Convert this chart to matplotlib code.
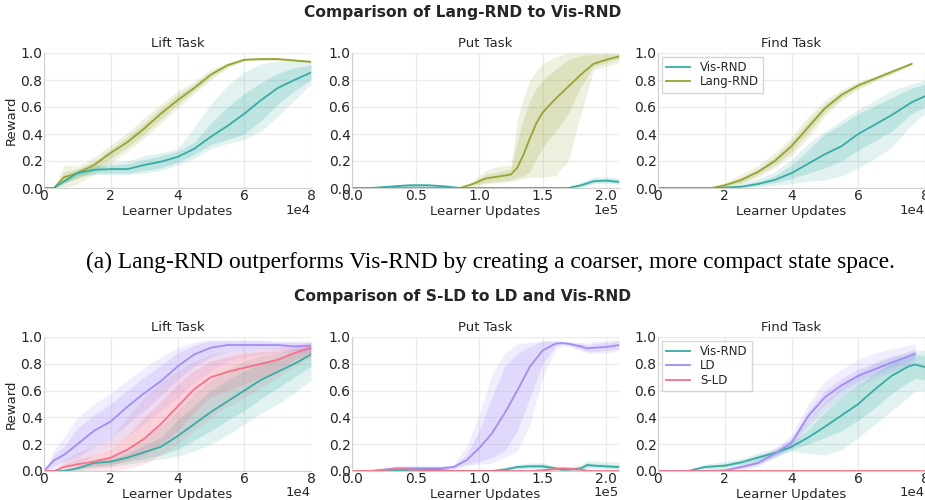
import numpy as np
import matplotlib
matplotlib.use("Agg")
import matplotlib.pyplot as plt

# colours (husl palette)
VIS_C = "#36ada4"
LANG_C = "#97a431"
LD_C = "#a48cf4"
SLD_C = "#f77189"

nan = np.nan

# ---------------- top row: Lang-RND vs Vis-RND ----------------
lift1_x = [0, 0.3, 0.6, 1.0, 1.5, 2.0, 2.5, 3.0, 3.5, 4.0, 4.5, 5.0, 5.5, 6.0, 6.5, 7.0, 7.5, 8.0]
lift1_lang = [0, 0, 0.08, 0.11, 0.17, 0.26, 0.34, 0.44, 0.55, 0.65, 0.74, 0.84, 0.91, 0.95, 0.955, 0.955, 0.945, 0.935]
lift1_lang_in_lo = [0, 0, 0.04, 0.07, 0.13, 0.22, 0.30, 0.40, 0.51, 0.62, 0.72, 0.82, 0.90, 0.945, 0.95, 0.95, 0.94, 0.93]
lift1_lang_in_hi = [0, 0, 0.12, 0.14, 0.20, 0.29, 0.38, 0.48, 0.59, 0.69, 0.77, 0.86, 0.92, 0.955, 0.96, 0.96, 0.95, 0.94]
lift1_lang_out_lo = [0, 0, 0.0, 0.03, 0.10, 0.19, 0.27, 0.37, 0.48, 0.59, 0.70, 0.80, 0.89, 0.94, 0.945, 0.945, 0.935, 0.925]
lift1_lang_out_hi = [0, 0, 0.17, 0.16, 0.23, 0.32, 0.41, 0.52, 0.62, 0.72, 0.79, 0.88, 0.93, 0.96, 0.965, 0.965, 0.955, 0.945]
lift1_vis = [0, 0, 0.05, 0.11, 0.135, 0.14, 0.14, 0.17, 0.195, 0.23, 0.29, 0.38, 0.46, 0.55, 0.65, 0.74, 0.80, 0.855]
lift1_vis_in_lo = [0, 0, 0.04, 0.09, 0.11, 0.11, 0.11, 0.13, 0.15, 0.19, 0.25, 0.32, 0.36, 0.40, 0.50, 0.62, 0.72, 0.80]
lift1_vis_in_hi = [0, 0, 0.06, 0.13, 0.16, 0.17, 0.18, 0.21, 0.24, 0.27, 0.34, 0.48, 0.60, 0.70, 0.78, 0.85, 0.89, 0.91]
lift1_vis_out_lo = [0, 0, 0.03, 0.08, 0.10, 0.10, 0.10, 0.11, 0.13, 0.17, 0.22, 0.29, 0.33, 0.36, 0.42, 0.53, 0.65, 0.77]
lift1_vis_out_hi = [0, 0, 0.07, 0.14, 0.17, 0.19, 0.20, 0.24, 0.26, 0.29, 0.45, 0.62, 0.76, 0.86, 0.92, 0.94, 0.94, 0.94]

put1_x = [0, 0.15, 0.3, 0.45, 0.6, 0.75, 0.85, 0.95, 1.05, 1.15, 1.25, 1.3, 1.35, 1.4, 1.45, 1.5, 1.6, 1.7, 1.8, 1.9, 2.0, 2.1]
put1_lang = [0, 0, 0, 0, 0, 0, 0, 0.03, 0.07, 0.085, 0.10, 0.15, 0.25, 0.37, 0.48, 0.56, 0.66, 0.75, 0.84, 0.92, 0.95, 0.975]
put1_lang_in_lo = [0, 0, 0, 0, 0, 0, 0, 0.02, 0.04, 0.05, 0.06, 0.08, 0.09, 0.12, 0.22, 0.30, 0.42, 0.55, 0.75, 0.90, 0.93, 0.955]
put1_lang_in_hi = [0, 0, 0, 0, 0, 0, 0, 0.04, 0.10, 0.12, 0.14, 0.35, 0.52, 0.65, 0.74, 0.80, 0.88, 0.95, 0.98, 0.99, 0.99, 0.99]
put1_lang_out_lo = [0, 0, 0, 0, 0, 0, 0, 0.01, 0.03, 0.04, 0.05, 0.06, 0.07, 0.08, 0.08, 0.08, 0.09, 0.20, 0.55, 0.87, 0.90, 0.93]
put1_lang_out_hi = [0, 0, 0, 0, 0, 0, 0, 0.05, 0.13, 0.16, 0.17, 0.50, 0.67, 0.80, 0.87, 0.92, 0.97, 1.0, 1.0, 1.0, 1.0, 1.0]
put1_vis = [0, 0, 0.01, 0.02, 0.02, 0.01, 0, 0, 0, 0, 0, 0, 0, 0, 0, 0, 0, 0, 0.02, 0.05, 0.055, 0.045]
put1_vis_in_lo = [0, 0, 0.005, 0.012, 0.012, 0.005, 0, 0, 0, 0, 0, 0, 0, 0, 0, 0, 0, 0, 0.01, 0.04, 0.045, 0.035]
put1_vis_in_hi = [0, 0, 0.015, 0.028, 0.028, 0.016, 0.003, 0, 0, 0, 0, 0, 0, 0, 0, 0, 0, 0, 0.03, 0.065, 0.07, 0.06]
put1_vis_out_lo = [0, 0, 0, 0.005, 0.005, 0, 0, 0, 0, 0, 0, 0, 0, 0, 0, 0, 0, 0, 0.005, 0.03, 0.035, 0.025]
put1_vis_out_hi = [0, 0.005, 0.025, 0.035, 0.035, 0.025, 0.006, 0, 0, 0, 0, 0, 0, 0, 0, 0, 0, 0.005, 0.045, 0.08, 0.085, 0.075]

find1_x = [0, 1.0, 1.6, 2.0, 2.5, 3.0, 3.5, 4.0, 4.5, 5.0, 5.5, 6.0, 6.5, 7.0, 7.6, 8.0]
find1_lang = [0, 0, 0, 0.02, 0.06, 0.12, 0.20, 0.31, 0.45, 0.59, 0.69, 0.76, 0.81, 0.86, 0.92, nan]
find1_lang_in_lo = [0, 0, 0, 0.01, 0.04, 0.10, 0.17, 0.27, 0.41, 0.56, 0.67, 0.745, 0.80, 0.85, 0.915, nan]
find1_lang_in_hi = [0, 0, 0, 0.03, 0.08, 0.14, 0.23, 0.35, 0.49, 0.62, 0.71, 0.775, 0.82, 0.87, 0.925, nan]
find1_lang_out_lo = [0, 0, 0, 0.005, 0.03, 0.08, 0.15, 0.24, 0.37, 0.53, 0.65, 0.73, 0.79, 0.84, 0.91, nan]
find1_lang_out_hi = [0, 0, 0.005, 0.04, 0.10, 0.17, 0.26, 0.38, 0.53, 0.65, 0.73, 0.79, 0.83, 0.88, 0.93, nan]
find1_vis = [0, 0, 0, 0.003, 0.01, 0.03, 0.06, 0.11, 0.18, 0.25, 0.31, 0.40, 0.47, 0.54, 0.635, 0.68]
find1_vis_in_lo = [0, 0, 0, 0, 0.005, 0.02, 0.04, 0.07, 0.11, 0.15, 0.20, 0.28, 0.35, 0.42, 0.55, 0.60]
find1_vis_in_hi = [0, 0, 0, 0.006, 0.02, 0.05, 0.09, 0.17, 0.28, 0.40, 0.47, 0.55, 0.61, 0.67, 0.74, 0.77]
find1_vis_out_lo = [0, 0, 0, 0, 0, 0.01, 0.02, 0.03, 0.05, 0.06, 0.09, 0.15, 0.22, 0.30, 0.47, 0.55]
find1_vis_out_hi = [0, 0, 0, 0.01, 0.03, 0.07, 0.12, 0.21, 0.33, 0.42, 0.50, 0.58, 0.65, 0.72, 0.77, 0.80]

# ---------------- bottom row: S-LD vs LD vs Vis-RND ----------------
lift2_x = [0, 0.3, 0.6, 1.0, 1.5, 2.0, 2.5, 3.0, 3.5, 4.0, 4.5, 5.0, 5.5, 6.0, 6.5, 7.0, 7.5, 8.0]
lift2_ld = [0, 0.08, 0.12, 0.20, 0.30, 0.37, 0.48, 0.58, 0.67, 0.78, 0.87, 0.92, 0.94, 0.94, 0.94, 0.94, 0.93, 0.935]
lift2_ld_in_lo = [0, 0.04, 0.07, 0.10, 0.18, 0.25, 0.35, 0.45, 0.56, 0.68, 0.78, 0.85, 0.89, 0.90, 0.91, 0.91, 0.90, 0.90]
lift2_ld_in_hi = [0, 0.12, 0.18, 0.32, 0.42, 0.50, 0.60, 0.70, 0.79, 0.88, 0.94, 0.97, 0.97, 0.97, 0.97, 0.96, 0.96, 0.96]
lift2_ld_out_lo = [0, 0.02, 0.04, 0.05, 0.12, 0.18, 0.26, 0.35, 0.45, 0.55, 0.66, 0.75, 0.82, 0.85, 0.87, 0.88, 0.88, 0.88]
lift2_ld_out_hi = [0, 0.16, 0.25, 0.40, 0.50, 0.58, 0.68, 0.77, 0.85, 0.92, 0.96, 0.98, 0.98, 0.98, 0.98, 0.97, 0.97, 0.97]
lift2_sld = [0, 0, 0.03, 0.05, 0.07, 0.10, 0.16, 0.24, 0.35, 0.48, 0.61, 0.70, 0.74, 0.77, 0.80, 0.83, 0.88, 0.92]
lift2_sld_in_lo = [0, 0, 0.01, 0.02, 0.03, 0.04, 0.08, 0.12, 0.20, 0.30, 0.44, 0.55, 0.60, 0.65, 0.70, 0.75, 0.83, 0.88]
lift2_sld_in_hi = [0, 0, 0.05, 0.09, 0.12, 0.17, 0.27, 0.40, 0.52, 0.65, 0.75, 0.82, 0.85, 0.88, 0.89, 0.90, 0.92, 0.95]
lift2_sld_out_lo = [0, 0, 0, 0, 0, 0, 0.02, 0.05, 0.12, 0.20, 0.30, 0.40, 0.48, 0.55, 0.62, 0.70, 0.78, 0.85]
lift2_sld_out_hi = [0, 0, 0.08, 0.14, 0.19, 0.25, 0.40, 0.55, 0.66, 0.75, 0.82, 0.87, 0.89, 0.90, 0.91, 0.92, 0.94, 0.96]
lift2_vis = [0, 0, 0, 0.02, 0.06, 0.07, 0.10, 0.14, 0.18, 0.26, 0.35, 0.44, 0.52, 0.60, 0.68, 0.74, 0.80, 0.87]
lift2_vis_in_lo = [0, 0, 0, 0.01, 0.04, 0.05, 0.07, 0.09, 0.12, 0.16, 0.23, 0.30, 0.38, 0.45, 0.54, 0.62, 0.70, 0.78]
lift2_vis_in_hi = [0, 0, 0, 0.03, 0.07, 0.09, 0.13, 0.19, 0.25, 0.38, 0.49, 0.60, 0.68, 0.75, 0.80, 0.84, 0.88, 0.92]
lift2_vis_out_lo = [0, 0, 0, 0, 0.02, 0.03, 0.05, 0.07, 0.09, 0.11, 0.15, 0.20, 0.27, 0.35, 0.43, 0.50, 0.58, 0.68]
lift2_vis_out_hi = [0, 0, 0, 0.04, 0.09, 0.11, 0.16, 0.25, 0.33, 0.45, 0.58, 0.68, 0.76, 0.82, 0.86, 0.88, 0.91, 0.93]

put2_x = [0, 0.15, 0.35, 0.5, 0.6, 0.7, 0.8, 0.9, 1.0, 1.1, 1.2, 1.3, 1.4, 1.5, 1.6, 1.65, 1.7, 1.8, 1.85, 1.9, 2.0, 2.1]
put2_ld = [0, 0, 0.02, 0.02, 0.02, 0.02, 0.03, 0.08, 0.17, 0.28, 0.43, 0.60, 0.78, 0.90, 0.95, 0.955, 0.95, 0.93, 0.915, 0.92, 0.925, 0.94]
put2_ld_in_lo = [0, 0, 0.01, 0.01, 0.01, 0.01, 0.02, 0.05, 0.07, 0.10, 0.15, 0.30, 0.55, 0.80, 0.93, 0.945, 0.94, 0.91, 0.89, 0.89, 0.90, 0.91]
put2_ld_in_hi = [0, 0, 0.03, 0.03, 0.03, 0.03, 0.04, 0.12, 0.30, 0.55, 0.78, 0.88, 0.93, 0.97, 0.97, 0.965, 0.96, 0.95, 0.94, 0.95, 0.96, 0.97]
put2_ld_out_lo = [0, 0, 0, 0, 0, 0, 0.01, 0.04, 0.05, 0.06, 0.10, 0.15, 0.35, 0.70, 0.90, 0.935, 0.93, 0.90, 0.88, 0.88, 0.88, 0.90]
put2_ld_out_hi = [0, 0.01, 0.04, 0.04, 0.04, 0.04, 0.05, 0.18, 0.42, 0.72, 0.88, 0.95, 0.96, 0.97, 0.975, 0.97, 0.965, 0.96, 0.955, 0.965, 0.97, 0.98]
put2_vis = [0, 0, 0.005, 0.01, 0.01, 0.005, 0, 0, 0, 0, 0.01, 0.03, 0.035, 0.035, 0.02, 0.01, 0.01, 0.02, 0.045, 0.04, 0.035, 0.03]
put2_vis_in_lo = [0, 0, 0, 0.005, 0.005, 0, 0, 0, 0, 0, 0.005, 0.02, 0.025, 0.025, 0.01, 0.005, 0.005, 0.01, 0.03, 0.03, 0.025, 0.02]
put2_vis_in_hi = [0, 0, 0.01, 0.02, 0.02, 0.01, 0.003, 0, 0, 0.003, 0.02, 0.04, 0.05, 0.05, 0.03, 0.02, 0.02, 0.035, 0.06, 0.055, 0.05, 0.045]
put2_vis_out_lo = [0, 0, 0, 0, 0, 0, 0, 0, 0, 0, 0, 0.01, 0.015, 0.015, 0.005, 0, 0, 0.005, 0.02, 0.02, 0.015, 0.01]
put2_vis_out_hi = [0, 0.005, 0.02, 0.03, 0.03, 0.02, 0.008, 0, 0, 0.008, 0.03, 0.05, 0.06, 0.06, 0.04, 0.03, 0.03, 0.05, 0.075, 0.075, 0.07, 0.065]
put2_sld = [0, 0, 0.015, 0.01, 0.005, 0, 0, 0, 0, 0, 0, 0, 0, 0.005, 0.015, 0.02, 0.018, 0.01, 0.002, 0, 0, 0]
put2_sld_in_lo = [0, 0, 0.008, 0.005, 0, 0, 0, 0, 0, 0, 0, 0, 0, 0, 0.008, 0.012, 0.01, 0.004, 0, 0, 0, 0]
put2_sld_in_hi = [0, 0.003, 0.022, 0.016, 0.01, 0.003, 0, 0, 0, 0, 0, 0, 0, 0.01, 0.022, 0.028, 0.026, 0.016, 0.005, 0, 0, 0]
put2_sld_out_lo = [0] * 22
put2_sld_out_hi = [0, 0.006, 0.03, 0.022, 0.014, 0.005, 0, 0, 0, 0, 0, 0, 0.003, 0.015, 0.03, 0.035, 0.032, 0.02, 0.008, 0, 0, 0]

find2_x = [0, 0.9, 1.4, 2.0, 2.5, 3.0, 3.5, 4.0, 4.5, 5.0, 5.5, 6.0, 6.5, 7.0, 7.5, 7.7, 8.0]
find2_vis = [0, 0, 0.03, 0.04, 0.065, 0.10, 0.135, 0.18, 0.25, 0.33, 0.415, 0.50, 0.61, 0.71, 0.78, 0.795, 0.775]
find2_vis_in_lo = [0, 0, 0.02, 0.03, 0.05, 0.08, 0.115, 0.16, 0.20, 0.25, 0.30, 0.38, 0.47, 0.58, 0.66, 0.69, 0.68]
find2_vis_in_hi = [0, 0, 0.04, 0.055, 0.08, 0.12, 0.155, 0.21, 0.31, 0.44, 0.55, 0.64, 0.73, 0.81, 0.86, 0.87, 0.86]
find2_vis_out_lo = [0, 0, 0.01, 0.02, 0.04, 0.06, 0.10, 0.15, 0.13, 0.12, 0.16, 0.25, 0.35, 0.45, 0.55, 0.60, 0.60]
find2_vis_out_hi = [0, 0.005, 0.05, 0.07, 0.095, 0.135, 0.17, 0.24, 0.38, 0.52, 0.63, 0.73, 0.80, 0.85, 0.88, 0.90, 0.90]
find2_ld = [0, 0, 0, 0.005, 0.03, 0.06, 0.13, 0.21, 0.41, 0.55, 0.64, 0.71, 0.76, 0.81, 0.855, 0.875, nan]
find2_ld_in_lo = [0, 0, 0, 0, 0.02, 0.045, 0.11, 0.19, 0.37, 0.50, 0.60, 0.67, 0.72, 0.77, 0.82, 0.84, nan]
find2_ld_in_hi = [0, 0, 0, 0.01, 0.04, 0.075, 0.15, 0.24, 0.45, 0.60, 0.69, 0.76, 0.81, 0.86, 0.89, 0.91, nan]
find2_ld_out_lo = [0, 0, 0, 0, 0.01, 0.035, 0.10, 0.17, 0.33, 0.45, 0.55, 0.63, 0.69, 0.74, 0.79, 0.81, nan]
find2_ld_out_hi = [0, 0, 0.003, 0.015, 0.05, 0.09, 0.17, 0.27, 0.50, 0.67, 0.76, 0.83, 0.88, 0.91, 0.94, 0.95, nan]
find2_sld = [0] * 17

TXT = "#262626"
plt.rcParams.update({
    "font.family": "DejaVu Sans",
    "text.color": TXT,
    "axes.labelcolor": TXT,
    "xtick.color": TXT,
    "ytick.color": TXT,
})

fig = plt.figure(figsize=(9.25, 5), dpi=100)


def make_axes(rect, title, xmax, xstep, scale, ylabel=False):
    ax = fig.add_axes(rect)
    ax.set_xlim(0, xmax * scale)
    ax.set_ylim(0, 1.0)
    ax.set_xticks(np.arange(0, xmax + 1e-9, xstep) * scale)
    ax.set_yticks([0, 0.2, 0.4, 0.6, 0.8, 1.0])
    ax.ticklabel_format(axis="x", style="sci", scilimits=(0, 0))
    ax.xaxis.get_offset_text().set_visible(False)
    ax.grid(True, color="#ebebeb", linewidth=1.0)
    ax.set_axisbelow(True)
    for side in ["top", "right"]:
        ax.spines[side].set_visible(False)
    for side in ["left", "bottom"]:
        ax.spines[side].set_color("#d0d0d0")
        ax.spines[side].set_linewidth(0.8)
    ax.tick_params(length=0, labelsize=10, pad=1)
    ax.set_title(title, fontsize=9.5, pad=4)
    ax.set_xlabel("Learner Updates", fontsize=9.5, labelpad=1)
    # multiplier shown on the same line as the x label
    ax.text(1.0, -22 / 135, "1e%d" % int(round(np.log10(scale))), transform=ax.transAxes,
            ha="right", va="center", fontsize=9.5)
    if ylabel:
        ax.set_ylabel("Reward", fontsize=9.5, labelpad=2)
    return ax


def draw(ax, x, scale, mean, in_lo, in_hi, out_lo, out_hi, color, label):
    xs = np.array(x) * scale
    ax.fill_between(xs, out_lo, out_hi, color=color, alpha=0.15, linewidth=0)
    ax.fill_between(xs, in_lo, in_hi, color=color, alpha=0.2, linewidth=0)
    ax.plot(xs, mean, color=color, linewidth=1.3, label=label)


def add_legend(ax):
    leg = ax.legend(loc="upper left", fontsize=8.5, frameon=True, fancybox=False,
                    handlelength=2.1, borderpad=0.35, labelspacing=0.15, borderaxespad=0.3,
                    handletextpad=0.8)
    leg.get_frame().set_edgecolor("#cccccc")


# layout in figure fractions
col_left = [44 / 925, 352 / 925, 658 / 925]
col_w = 267 / 925
top_b, top_h = 1 - 188 / 500, 135 / 500
bot_b, bot_h = 1 - 471 / 500, 134 / 500

# top row
ax = make_axes([col_left[0], top_b, col_w, top_h], "Lift Task", 8, 2, 1e4, ylabel=True)
draw(ax, lift1_x, 1e4, lift1_lang, lift1_lang_in_lo, lift1_lang_in_hi, lift1_lang_out_lo, lift1_lang_out_hi, LANG_C, "Lang-RND")
draw(ax, lift1_x, 1e4, lift1_vis, lift1_vis_in_lo, lift1_vis_in_hi, lift1_vis_out_lo, lift1_vis_out_hi, VIS_C, "Vis-RND")

ax = make_axes([col_left[1], top_b, col_w, top_h], "Put Task", 2.1, 0.5, 1e5)
ax.set_xticks(np.arange(0, 2.01, 0.5) * 1e5)
draw(ax, put1_x, 1e5, put1_lang, put1_lang_in_lo, put1_lang_in_hi, put1_lang_out_lo, put1_lang_out_hi, LANG_C, "Lang-RND")
draw(ax, put1_x, 1e5, put1_vis, put1_vis_in_lo, put1_vis_in_hi, put1_vis_out_lo, put1_vis_out_hi, VIS_C, "Vis-RND")

ax = make_axes([col_left[2], top_b, col_w, top_h], "Find Task", 8, 2, 1e4)
draw(ax, find1_x, 1e4, find1_vis, find1_vis_in_lo, find1_vis_in_hi, find1_vis_out_lo, find1_vis_out_hi, VIS_C, "Vis-RND")
draw(ax, find1_x, 1e4, find1_lang, find1_lang_in_lo, find1_lang_in_hi, find1_lang_out_lo, find1_lang_out_hi, LANG_C, "Lang-RND")
add_legend(ax)

# bottom row
ax = make_axes([col_left[0], bot_b, col_w, bot_h], "Lift Task", 8, 2, 1e4, ylabel=True)
draw(ax, lift2_x, 1e4, lift2_vis, lift2_vis_in_lo, lift2_vis_in_hi, lift2_vis_out_lo, lift2_vis_out_hi, VIS_C, "Vis-RND")
draw(ax, lift2_x, 1e4, lift2_sld, lift2_sld_in_lo, lift2_sld_in_hi, lift2_sld_out_lo, lift2_sld_out_hi, SLD_C, "S-LD")
draw(ax, lift2_x, 1e4, lift2_ld, lift2_ld_in_lo, lift2_ld_in_hi, lift2_ld_out_lo, lift2_ld_out_hi, LD_C, "LD")

ax = make_axes([col_left[1], bot_b, col_w, bot_h], "Put Task", 2.1, 0.5, 1e5)
ax.set_xticks(np.arange(0, 2.01, 0.5) * 1e5)
draw(ax, put2_x, 1e5, put2_ld, put2_ld_in_lo, put2_ld_in_hi, put2_ld_out_lo, put2_ld_out_hi, LD_C, "LD")
draw(ax, put2_x, 1e5, put2_vis, put2_vis_in_lo, put2_vis_in_hi, put2_vis_out_lo, put2_vis_out_hi, VIS_C, "Vis-RND")
draw(ax, put2_x, 1e5, put2_sld, put2_sld_in_lo, put2_sld_in_hi, put2_sld_out_lo, put2_sld_out_hi, SLD_C, "S-LD")

ax = make_axes([col_left[2], bot_b, col_w, bot_h], "Find Task", 8, 2, 1e4)
draw(ax, find2_x, 1e4, find2_vis, find2_vis_in_lo, find2_vis_in_hi, find2_vis_out_lo, find2_vis_out_hi, VIS_C, "Vis-RND")
draw(ax, find2_x, 1e4, find2_ld, find2_ld_in_lo, find2_ld_in_hi, find2_ld_out_lo, find2_ld_out_hi, LD_C, "LD")
ax.plot(np.array(find2_x) * 1e4, find2_sld, color=SLD_C, linewidth=1.3, label="S-LD")
add_legend(ax)

# titles and caption
fig.text(0.5, 1 - 13 / 500, "Comparison of Lang-RND to Vis-RND", ha="center", va="center",
         fontsize=11.2, fontweight="bold")
fig.text(0.5, 1 - 297 / 500, "Comparison of S-LD to LD and Vis-RND", ha="center", va="center",
         fontsize=11.2, fontweight="bold")
fig.text(490 / 925, 1 - 262 / 500,
         "(a) Lang-RND outperforms Vis-RND by creating a coarser, more compact state space.",
         ha="center", va="center", fontsize=16.8, family="Liberation Serif", color="black")

fig.savefig("out.png", dpi=100)
